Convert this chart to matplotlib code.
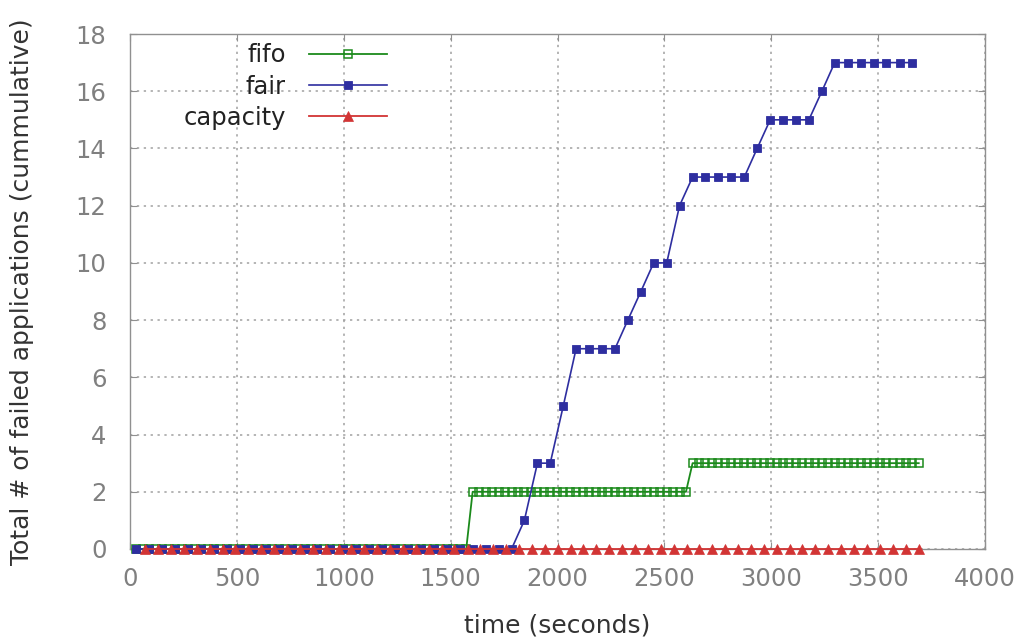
import matplotlib
matplotlib.use("Agg")
import matplotlib.pyplot as plt

# ---------------- data ----------------
fifo_time = [30, 60, 91, 121, 151, 181, 212, 242, 272, 302, 333, 363, 393, 423, 454, 484,
             514, 544, 575, 605, 635, 665, 696, 726, 756, 786, 817, 847, 877, 907, 938, 968,
             998, 1028, 1059, 1089, 1119, 1149, 1180, 1210, 1240, 1270, 1301, 1331, 1361,
             1391, 1422, 1452, 1482, 1512, 1543, 1573, 1603, 1633, 1664, 1694, 1724, 1754,
             1785, 1815, 1845, 1875, 1906, 1936, 1966, 1996, 2027, 2057, 2087, 2117, 2148,
             2178, 2208, 2238, 2269, 2299, 2329, 2359, 2390, 2420, 2450, 2480, 2511, 2541,
             2571, 2601, 2632, 2662, 2692, 2722, 2753, 2783, 2813, 2843, 2874, 2904, 2934,
             2964, 2995, 3025, 3055, 3085, 3116, 3146, 3176, 3206, 3237, 3267, 3297, 3327,
             3358, 3388, 3418, 3448, 3479, 3509, 3539, 3569, 3600, 3630, 3660, 3690]
fifo_failed = [0] * 52 + [2] * 34 + [3] * 36

fair_time = [30, 91, 151, 212, 272, 333, 393, 454, 514, 575, 635, 696, 756, 817, 877, 938,
             998, 1059, 1119, 1180, 1240, 1301, 1361, 1422, 1482, 1543, 1603, 1664, 1724,
             1785, 1845, 1906, 1966, 2027, 2087, 2148, 2208, 2269, 2329, 2390, 2450, 2511,
             2571, 2632, 2692, 2753, 2813, 2874, 2934, 2995, 3055, 3116, 3176, 3237, 3297,
             3358, 3418, 3479, 3539, 3600, 3660]
fair_failed = [0] * 30 + [1, 3, 3, 5, 7, 7, 7, 7, 8, 9, 10, 10, 12,
                          13, 13, 13, 13, 13, 14, 15, 15, 15, 15, 16,
                          17, 17, 17, 17, 17, 17, 17]

capacity_time = [71, 131, 192, 252, 312, 373, 433, 493, 553, 614, 674, 734, 795, 855, 915,
                 976, 1036, 1096, 1156, 1217, 1277, 1337, 1398, 1458, 1518, 1579, 1639,
                 1699, 1759, 1820, 1880, 1940, 2001, 2061, 2121, 2182, 2242, 2302, 2362,
                 2423, 2483, 2543, 2604, 2664, 2724, 2785, 2845, 2905, 2965, 3026, 3086,
                 3146, 3207, 3267, 3327, 3388, 3448, 3508, 3568, 3629, 3689]
capacity_failed = [0] * 61

series_labels = ["fifo", "fair", "capacity"]
x_ticks = [0, 500, 1000, 1500, 2000, 2500, 3000, 3500, 4000]
y_ticks = [0, 2, 4, 6, 8, 10, 12, 14, 16, 18]

# ---------------- styling ----------------
GREEN = "#1b8a1b"
BLUE = "#2e2ea0"
RED = "#d23434"
GRID = "#a0a0a0"
SPINE = "#909090"
TICKTXT = "#808080"
LABELTXT = "#333333"

plt.rcParams["font.family"] = ["DejaVu Sans"]

fig = plt.figure(figsize=(10.21, 6.41), dpi=100)
ax = fig.add_axes([130 / 1021, 1 - 549 / 641, (985 - 130) / 1021, (549 - 34) / 641])

ax.plot(fifo_time, fifo_failed, color=GREEN, lw=1.3, marker="s", ms=6.2,
        mfc="none", mec=GREEN, mew=1.1, label=series_labels[0], zorder=3, clip_on=False)
ax.plot(fair_time, fair_failed, color=BLUE, lw=1.2, marker="s", ms=6.2,
        mfc=BLUE, mec=BLUE, mew=0.6, label=series_labels[1], zorder=4, clip_on=False)
ax.plot(capacity_time, capacity_failed, color=RED, lw=1.3, marker="^", ms=7.5,
        mfc=RED, mec=RED, mew=0.5, label=series_labels[2], zorder=5, clip_on=False)

ax.set_xlim(0, 4000)
ax.set_ylim(0, 18)
ax.set_xticks(x_ticks)
ax.set_yticks(y_ticks)

ax.grid(True, color=GRID, linestyle=(0, (1.5, 3.0)), linewidth=1.1)
ax.set_axisbelow(True)

for sp in ax.spines.values():
    sp.set_color(SPINE)
    sp.set_linewidth(1.0)

ax.tick_params(axis="both", direction="in", length=5, width=0.8, color=SPINE,
               labelcolor=TICKTXT, labelsize=17.5, top=True, right=True)
ax.tick_params(axis="x", pad=13)
ax.tick_params(axis="y", pad=17)

ax.set_xlabel("time (seconds)", fontsize=18, color=LABELTXT, labelpad=16)
ax.set_ylabel("Total # of failed applications (cummulative)", fontsize=18,
              color=LABELTXT, labelpad=30)

leg = ax.legend(loc="upper right", bbox_to_anchor=(0.30, 0.982), markerfirst=False,
                frameon=False, fontsize=17.5, handlelength=3.2, handletextpad=0.95,
                labelspacing=0.3, borderpad=0, borderaxespad=0)
for t in leg.get_texts():
    t.set_color("#222222")

fig.savefig("out.png", dpi=100)
